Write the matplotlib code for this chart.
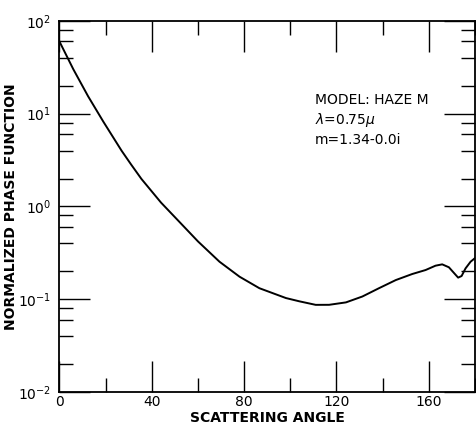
import matplotlib
matplotlib.use("Agg")
import matplotlib.pyplot as plt
from matplotlib.ticker import LogLocator, FixedLocator, NullFormatter

# Values (scattering angle in deg, normalized phase function)
angle = [0, 6, 12.4, 19, 26.9, 31, 35.5, 44, 52, 60, 69.3, 78, 86.6, 98.1,
         103.9, 111, 116.8, 124.1, 131.2, 138.4, 145.7, 152.8, 158.6, 162.9,
         165.8, 168.7, 171.3, 172.7, 174.2, 175.9, 178.1, 179.8]
phase = [59.9, 30.1, 15.4, 8.2, 3.99, 2.84, 1.98, 1.10, 0.68, 0.42, 0.254, 0.175,
         0.1315, 0.103, 0.095, 0.087, 0.0871, 0.0925, 0.107, 0.1315, 0.161,
         0.187, 0.2065, 0.230, 0.2377, 0.221, 0.187, 0.171, 0.178, 0.215,
         0.254, 0.275]

x_major = [0, 40, 80, 120, 160]
x_minor = [20, 60, 100, 140, 180]

fig = plt.figure(figsize=(4.77, 4.25), dpi=100)
ax = fig.add_axes([0.1247, 0.0776, 0.8711, 0.8732])
ax.semilogy(angle, phase, color="black", lw=1.4)
ax.set_xlim(0, 180)
ax.set_ylim(1e-2, 1e2)

ax.xaxis.set_major_locator(FixedLocator(x_major))
ax.xaxis.set_minor_locator(FixedLocator(x_minor))
ax.yaxis.set_minor_locator(LogLocator(base=10, subs=(2, 4, 6, 8)))
ax.yaxis.set_minor_formatter(NullFormatter())
ax.set_yticks([1e-2, 1e-1, 1e0, 1e1, 1e2])
ax.set_yticklabels([r"$10^{-2}$", r"$10^{-1}$", r"$10^{0}$", r"$10^{1}$", r"$10^{2}$"])

ax.tick_params(which="both", direction="in", top=True, right=True, width=1,
               labelsize=10)
ax.tick_params(which="major", length=22, pad=2)
ax.tick_params(axis="y", which="major", pad=6)
ax.tick_params(which="minor", length=10)
for sp in ax.spines.values():
    sp.set_linewidth(1.3)

ax.set_xlabel("SCATTERING ANGLE", fontsize=10, fontweight="bold")
ax.xaxis.set_label_coords(0.5, -0.052)
ax.set_ylabel("NORMALIZED PHASE FUNCTION", fontsize=10, fontweight="bold")
ax.yaxis.set_label_coords(-0.101, 0.5)

ax.text(0.615, 0.806, "MODEL: HAZE M\n" + r"$\lambda$=0.75$\mu$" + "\nm=1.34-0.0i",
        transform=ax.transAxes, fontsize=10, va="top", ha="left",
        linespacing=1.35)

fig.savefig("out.png", dpi=100)
